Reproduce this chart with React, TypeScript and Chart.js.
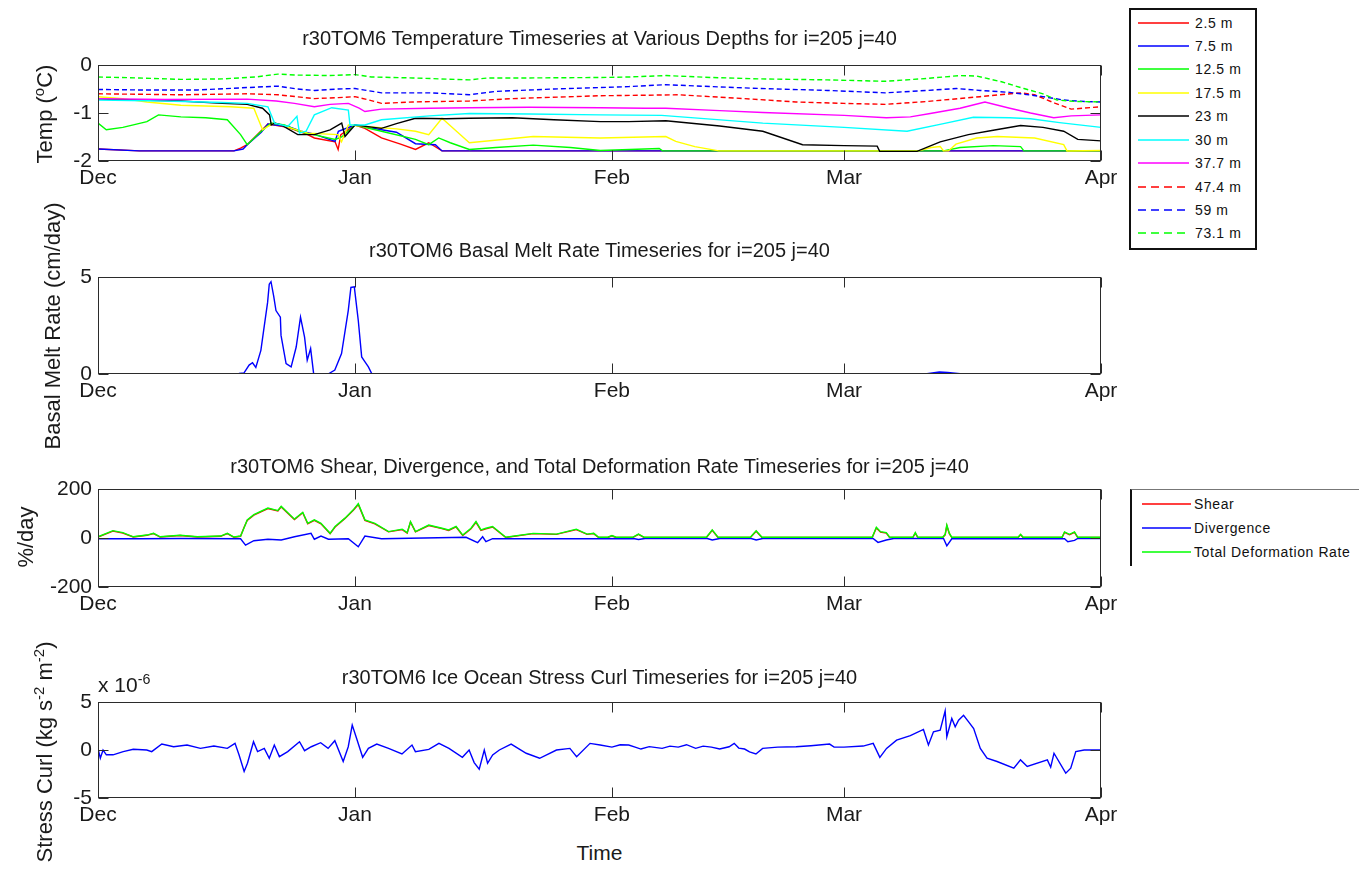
import React, { useEffect, useRef } from "react";
import { Chart, registerables } from "chart.js";

Chart.register(...registerables);

const FONT = '"Liberation Sans", Arial, Helvetica, sans-serif';
const TEXT = "#1a1a1a";
const AXIS = "#2b2b2b";

// x axis: days since Dec 1
const monthDays = [0, 31, 62, 90, 121];
const monthLabels = ["Dec", "Jan", "Feb", "Mar", "Apr"];

// ---------- Panel 1: temperature (°C) ----------
const depthLabels = ["2.5 m", "7.5 m", "12.5 m", "17.5 m", "23 m", "30 m", "37.7 m", "47.4 m", "59 m", "73.1 m"];
const depthColors = ["#ff0000", "#0000ff", "#00ff00", "#ffff00", "#000000", "#00ffff", "#ff00ff", "#ff0000", "#0000ff", "#00ff00"];
const depthDashed = [false, false, false, false, false, false, false, true, true, true];

const t2_5 = [[0,-1.75],[5,-1.79],[16.4,-1.79],[17.2,-1.73],[18,-1.66],[20.5,-1.23],[22.9,-1.3],[25.3,-1.45],[26.1,-1.52],[28.6,-1.6],[28.97,-1.76],[29.3,-1.45],[31,-1.25],[32.2,-1.32],[34.2,-1.52],[36.5,-1.65],[38.3,-1.76],[39.9,-1.62],[41.5,-1.79],[121,-1.79]];
const t7_5 = [[0,-1.75],[5,-1.79],[16.4,-1.79],[17.5,-1.75],[18,-1.66],[19.7,-1.4],[20.5,-1.23],[22.9,-1.28],[24.5,-1.38],[26.1,-1.44],[28.6,-1.59],[29,-1.38],[31,-1.25],[34.2,-1.35],[36,-1.4],[38.3,-1.64],[40.7,-1.66],[41.5,-1.79],[121,-1.79]];
const t12_5 = [[0,-1.21],[1,-1.35],[3,-1.3],[5.9,-1.18],[7.3,-1.04],[10,-1.08],[13,-1.1],[15.6,-1.14],[17.2,-1.45],[18,-1.66],[19.7,-1.38],[20.9,-1.21],[22.5,-1.25],[24.5,-1.4],[26,-1.45],[28.6,-1.55],[29.4,-1.5],[31,-1.25],[34.2,-1.38],[38.3,-1.55],[39.9,-1.66],[41.1,-1.52],[42.5,-1.62],[44.8,-1.76],[48,-1.72],[52.5,-1.67],[57,-1.72],[60.6,-1.78],[67.7,-1.74],[68.1,-1.79],[102,-1.79],[104,-1.72],[108,-1.68],[111.3,-1.7],[111.7,-1.79],[121,-1.79]];
const t17_5 = [[0,-0.66],[3,-0.7],[5.9,-0.77],[10,-0.84],[16,-0.87],[18.8,-0.9],[19.85,-1.35],[20.5,-1.28],[21.3,-1.21],[23,-1.3],[25.3,-1.42],[28.97,-1.45],[29.38,-1.6],[30.2,-1.25],[32.2,-1.28],[36,-1.33],[38.3,-1.38],[39.9,-1.45],[41.5,-1.11],[44.8,-1.62],[52.5,-1.49],[60.6,-1.52],[68.5,-1.49],[69.7,-1.59],[72,-1.7],[74.9,-1.79],[99,-1.79],[100.5,-1.72],[101.6,-1.7],[102,-1.79],[102.6,-1.79],[103.5,-1.65],[106,-1.52],[108.5,-1.49],[113,-1.52],[116.5,-1.66],[116.9,-1.79],[121,-1.78]];
const t23 = [[0,-0.71],[5,-0.73],[10,-0.75],[15,-0.8],[18,-0.82],[19.85,-0.9],[20.7,-1.04],[20.9,-1.25],[21.3,-1.21],[22.1,-1.25],[24.1,-1.45],[26.1,-1.45],[28,-1.35],[29.4,-1.21],[29.8,-1.49],[31,-1.25],[34.2,-1.32],[36,-1.22],[38.3,-1.11],[42,-1.12],[44.8,-1.11],[50,-1.1],[55,-1.14],[60.6,-1.18],[64,-1.18],[68.5,-1.16],[75,-1.27],[80.2,-1.38],[85,-1.66],[90,-1.68],[94,-1.69],[94.3,-1.8],[98.8,-1.8],[101.6,-1.6],[105,-1.45],[108,-1.36],[111.3,-1.26],[114,-1.3],[116.5,-1.38],[118.2,-1.55],[121,-1.58]];
const t30 = [[0,-0.73],[8,-0.75],[15,-0.78],[18,-0.8],[20.5,-0.87],[21.3,-1.21],[22.9,-1.28],[24.0,-1.07],[24.3,-1.42],[25.1,-1.38],[26.1,-1.04],[28.2,-0.89],[30.2,-0.94],[30.4,-1.25],[32.2,-1.25],[34.2,-1.14],[40,-1.06],[44.8,-1.01],[52,-1.02],[60.6,-1.04],[68,-1.05],[80.2,-1.21],[90,-1.3],[97.6,-1.38],[102,-1.22],[105.6,-1.09],[110,-1.1],[112.5,-1.12],[116,-1.2],[121,-1.3]];
const t37_7 = [[0,-0.7],[8,-0.72],[18,-0.71],[21.5,-0.75],[23.7,-0.8],[26.1,-0.87],[28,-0.82],[30.2,-0.8],[31.5,-0.9],[32.2,-0.97],[34.2,-0.92],[40,-0.9],[44.8,-0.89],[52,-0.88],[60.6,-0.89],[66,-0.9],[68.5,-0.9],[75,-0.95],[80.2,-0.99],[90,-1.05],[95.1,-1.1],[98,-1.08],[100.4,-1.01],[104,-0.9],[107,-0.77],[110,-0.9],[112.5,-1.0],[115.3,-1.1],[117.4,-1.06],[121,-1.04]];
const t47_4 = [[0,-0.6],[10,-0.62],[18,-0.6],[21.7,-0.62],[26.1,-0.7],[29,-0.68],[31,-0.66],[32.5,-0.72],[34.2,-0.8],[38,-0.77],[44.8,-0.75],[50,-0.7],[60.6,-0.64],[66,-0.63],[70,-0.62],[78,-0.7],[84.2,-0.77],[90,-0.8],[95,-0.82],[100,-0.76],[106.4,-0.66],[111.3,-0.58],[113,-0.62],[115.5,-0.8],[117.4,-0.92],[121,-0.87]];
const t59 = [[0,-0.51],[5,-0.52],[12,-0.52],[18,-0.47],[21.7,-0.44],[24,-0.5],[26.1,-0.53],[29,-0.5],[31,-0.49],[34.2,-0.58],[40,-0.58],[44.8,-0.62],[48,-0.55],[55,-0.5],[60.6,-0.47],[64,-0.45],[68.5,-0.41],[74,-0.45],[80,-0.49],[88,-0.53],[95,-0.58],[100,-0.53],[103.6,-0.49],[106.4,-0.53],[110,-0.57],[111.3,-0.6],[114,-0.66],[116.5,-0.73],[119,-0.76],[121,-0.77]];
const t73_1 = [[0,-0.25],[5,-0.27],[10,-0.3],[15,-0.29],[19,-0.25],[21.7,-0.19],[24,-0.21],[28,-0.22],[31,-0.2],[33,-0.25],[38,-0.27],[44.8,-0.31],[47,-0.27],[52,-0.27],[60.6,-0.26],[64,-0.25],[68.5,-0.22],[74,-0.26],[80,-0.29],[88,-0.31],[95,-0.34],[100,-0.28],[104,-0.22],[106,-0.23],[109,-0.35],[111.7,-0.49],[114,-0.6],[115.7,-0.73],[118,-0.76],[121,-0.77]];
const tempSeries = [t2_5, t7_5, t12_5, t17_5, t23, t30, t37_7, t47_4, t59, t73_1];

// ---------- Panel 2: basal melt rate (cm/day) ----------
const basalMelt = [[0,0.02],[16,0.02],[17,0.03],[17.6,0.05],[18.23,0.46],[18.64,0.58],[19.04,0.34],[19.65,1.22],[19.98,2.24],[20.46,3.69],[20.66,4.63],[20.87,4.76],[21.19,4.03],[21.47,3.27],[22.0,2.93],[22.08,1.99],[22.69,0.54],[23.3,0.37],[23.91,1.39],[24.43,2.93],[24.92,1.9],[25.24,0.71],[25.65,1.31],[26.01,0.03],[27.76,0],[28.57,0.2],[29.38,1.05],[30.19,3.27],[30.51,4.46],[30.92,4.49],[31.4,2.76],[31.81,0.88],[32.21,0.63],[32.62,0.37],[33.02,0.02],[60,0.02],[100,0.02],[101.5,0.1],[102.5,0.08],[104,0.02],[121,0.02]];

// ---------- Panel 3: deformation rates (%/day) ----------
const defLabels = ["Shear", "Divergence", "Total Deformation Rate"];
const defColors = ["#ff0000", "#0000ff", "#00ff00"];
const shear = [[0,4],[1.8,28],[3,20],[4.25,4],[5.9,11],[6.7,18],[7.5,4],[9.9,10],[12,4],[14.8,7],[15.6,18],[16.4,3],[17.2,7],[17.6,42],[18.0,72],[18.8,93],[20.5,120],[21.7,110],[22.1,127],[23.7,75],[24.7,103],[25.3,58],[26.1,72],[26.9,58],[28.0,18],[28.6,45],[29.8,80],[30.8,113],[31.4,137],[32.2,72],[33.4,58],[35.05,25],[36.7,34],[37.3,20],[37.7,65],[38.3,25],[39.9,51],[41.5,38],[42.3,31],[43.2,45],[44.0,10],[45.0,38],[45.6,64],[46.2,31],[46.8,37],[47.6,45],[49.2,2],[52.5,18],[55.3,15],[57.7,34],[59,15],[59.8,18],[60.4,2],[61.5,2],[62,9],[62.5,2],[64.5,2],[65.2,15],[65.9,2],[73.4,2],[74.1,31],[74.8,2],[78.7,2],[79.4,27],[80.1,2],[93.4,2],[93.9,41],[94.4,24],[95.1,20],[95.5,2],[98.3,2],[98.6,20],[98.9,2],[101.9,2],[102.2,13],[102.4,50],[102.7,18],[103,2],[111,2],[111.3,13],[111.6,2],[116.3,2],[116.6,23],[117.2,13],[117.8,23],[118.2,2],[121,2]];
const divergence = [[0,-3],[5,-3],[10,-2],[17.2,-3],[17.8,-29],[18.8,-11],[20.5,-5],[22.1,-8],[23.7,5],[25.7,19],[26.1,-5],[26.9,8],[27.8,-5],[30.2,-3],[31.4,-36],[32.2,8],[34.2,-3],[44.4,3],[45.8,-19],[46.4,5],[46.8,-15],[47.6,-3],[60,-3],[64.6,-2],[65.2,-6],[66,-2],[73.5,-2],[74.1,-8],[75,-2],[78.8,-2],[79.4,-8],[80.2,-2],[93.5,-2],[94.1,-18],[95.1,-8],[96,-2],[102,-2],[102.4,-32],[103,-3],[116.6,-3],[117,-15],[117.8,-10],[118.2,-2],[121,-2]];
const totalDeformation = [[0,5],[1.8,30],[3,22],[4.25,5],[5.9,12],[6.7,19],[7.5,5],[9.9,11],[12,5],[14.8,8],[15.6,19],[16.4,4],[17.2,8],[17.6,40],[18.0,74],[18.8,95],[20.5,122],[21.7,112],[22.1,129],[23.7,77],[24.7,105],[25.3,60],[26.1,74],[26.9,60],[28.0,19],[28.6,47],[29.8,81],[30.8,115],[31.4,140],[32.2,74],[33.4,60],[35.05,26],[36.7,36],[37.3,22],[37.7,67],[38.3,26],[39.9,53],[41.5,40],[42.3,33],[43.2,47],[44.0,12],[45.0,40],[45.6,67],[46.2,33],[46.8,40],[47.6,47],[49.2,3],[52.5,19],[55.3,16],[57.7,36],[59,16],[59.8,19],[60.4,3],[61.5,3],[62,10],[62.5,3],[64.5,3],[65.2,16],[65.9,3],[73.4,3],[74.1,33],[74.8,3],[78.7,3],[79.4,29],[80.1,3],[93.4,3],[93.9,44],[94.4,26],[95.1,22],[95.5,3],[98.3,3],[98.6,22],[98.9,3],[101.9,3],[102.2,15],[102.4,53],[102.7,20],[103,3],[111,3],[111.3,15],[111.6,3],[116.3,3],[116.6,25],[117.2,15],[117.8,25],[118.2,3],[121,3]];

// ---------- Panel 4: ice-ocean stress curl (x 1e-6 kg s^-2 m^-2) ----------
const stressCurl = [[0,0.17],[0.28,-0.86],[0.61,0],[1.01,-0.5],[1.82,-0.5],[3.04,-0.17],[4.25,0.07],[5.88,0],[6.48,-0.17],[7.7,0.62],[9.12,0.34],[10.74,0.52],[12.36,0.17],[13.98,0.41],[15.6,0.17],[16.53,0.69],[17.02,-0.52],[17.63,-2.24],[18.03,-1.38],[18.76,0.86],[19.25,-0.17],[20.06,0.17],[20.66,-0.86],[21.27,0.52],[21.88,-0.69],[22.89,-0.17],[24.31,0.86],[24.92,-0.07],[25.73,0.34],[26.86,0.76],[27.76,0.17],[28.57,0.97],[29.58,-1.2],[30.19,0.34],[30.67,2.59],[31.2,1.2],[31.93,-0.76],[32.62,0.17],[33.63,0.62],[35.05,0.17],[36.67,-0.41],[37.88,0.52],[38.29,-0.17],[39.91,0.07],[41.13,0.69],[42.34,0.17],[43.96,-0.76],[44.77,0],[45.38,-1.31],[45.99,-2.0],[46.6,0],[47.0,-1.38],[47.61,-0.52],[48.42,0],[49.84,0.62],[51.66,-0.34],[53.28,-0.86],[55.31,0],[56.93,0.17],[57.74,-0.69],[59.36,0.69],[60.58,0.52],[62,0.3],[63,0.55],[64.02,0.52],[64.8,0.3],[65.5,0.1],[66.5,0.35],[68.06,0.17],[69,0.4],[70,0.3],[71,0.55],[72.1,0.17],[73,0.4],[74,0.3],[75,0.1],[76.14,0.34],[76.75,0.69],[77.3,0.2],[78,0.1],[78.6,-0.2],[79.37,-0.41],[80.18,0.17],[82,0.3],[84.22,0.34],[86,0.45],[88.26,0.62],[88.8,0.3],[90,0.3],[92.3,0.41],[93.52,0.69],[94.32,-0.76],[95.13,0.17],[96.34,1.03],[98,1.5],[99.58,2.14],[100.18,0.52],[100.79,1.9],[101.6,2.07],[102.2,4.07],[102.4,1.38],[103.0,3.28],[103.41,2.41],[103.82,3.1],[104.42,3.62],[105.03,2.93],[105.64,2.24],[106.44,0.17],[107.25,-0.86],[108.46,-1.2],[110.48,-1.9],[111.29,-1.03],[112.1,-1.72],[114.53,-1.03],[114.93,-1.79],[115.33,-0.34],[116.75,-2.41],[117.35,-1.9],[117.96,-0.17],[118.97,0],[121,0]];

// ---------- layout ----------
const CANVAS_W = 1130;
const PLOT_LEFT = 98;
const PLOT_RIGHT = 1101;

const toXY = (pairs: number[][]) => pairs.map(([x, y]) => ({ x, y }));

type Panel = {
  top: number; height: number; chartTop: number; chartBottom: number;
  yMin: number; yMax: number; yTicks: number[]; yTickLabels: string[];
  datasets: any[];
};

const panels: Panel[] = [
  {
    top: 40, height: 160, chartTop: 65, chartBottom: 161,
    yMin: -2, yMax: 0, yTicks: [-2, -1, 0], yTickLabels: ["-2", "-1", "0"],
    datasets: tempSeries.map((s, i) => ({
      label: depthLabels[i], data: toXY(s), borderColor: depthColors[i],
      borderDash: depthDashed[i] ? [5, 3] : [], order: 10 - i,
    })),
  },
  {
    top: 252, height: 160, chartTop: 277, chartBottom: 374,
    yMin: 0, yMax: 5, yTicks: [0, 5], yTickLabels: ["0", "5"],
    datasets: [{ label: "Basal Melt Rate", data: toXY(basalMelt), borderColor: "#0000ff" }],
  },
  {
    top: 464, height: 160, chartTop: 489, chartBottom: 587,
    yMin: -200, yMax: 200, yTicks: [-200, 0, 200], yTickLabels: ["-200", "0", "200"],
    datasets: [shear, divergence, totalDeformation].map((s, i) => ({
      label: defLabels[i], data: toXY(s), borderColor: defColors[i], order: 3 - i,
    })),
  },
  {
    top: 677, height: 160, chartTop: 702, chartBottom: 798,
    yMin: -5, yMax: 5, yTicks: [-5, 0, 5], yTickLabels: ["-5", "0", "5"],
    datasets: [{ label: "Stress Curl", data: toXY(stressCurl), borderColor: "#0000ff" }],
  },
];

const matlabBox = {
  id: "matlabBox",
  afterDraw(chart: any) {
    const { ctx, chartArea: a, scales } = chart;
    const L = Math.round(a.left) + 0.5, R = Math.round(a.right) - 0.5;
    const T = Math.round(a.top) + 0.5, B = Math.round(a.bottom) - 0.5;
    const TL = 10;
    ctx.save();
    ctx.strokeStyle = AXIS;
    ctx.lineWidth = 1;
    ctx.setLineDash([]);
    ctx.strokeRect(L, T, R - L, B - T);
    ctx.beginPath();
    scales.x.ticks.forEach((t: any) => {
      const px = Math.round(scales.x.getPixelForValue(t.value)) + 0.5;
      ctx.moveTo(px, B); ctx.lineTo(px, B - TL);
      ctx.moveTo(px, T); ctx.lineTo(px, T + TL);
    });
    scales.y.ticks.forEach((t: any) => {
      const py = Math.round(scales.y.getPixelForValue(t.value)) + 0.5;
      ctx.moveTo(L, py); ctx.lineTo(L + TL, py);
      ctx.moveTo(R, py); ctx.lineTo(R - TL, py);
    });
    ctx.stroke();
    ctx.restore();
  },
};

function makeChart(canvas: HTMLCanvasElement, p: Panel) {
  const xH = p.top + p.height - p.chartBottom;
  return new Chart(canvas, {
    type: "line",
    data: { datasets: p.datasets },
    options: {
      animation: false,
      responsive: false,
      maintainAspectRatio: false,
      events: [],
      layout: { padding: { left: 0, right: CANVAS_W - PLOT_RIGHT, top: p.chartTop - p.top, bottom: 0 } },
      plugins: { legend: { display: false }, tooltip: { enabled: false }, title: { display: false } },
      elements: { point: { radius: 0 }, line: { tension: 0, borderWidth: 1.4 } },
      scales: {
        x: {
          type: "linear", min: 0, max: 121,
          grid: { display: false, drawTicks: false },
          border: { display: false },
          afterBuildTicks: (s: any) => { s.ticks = monthDays.map((v) => ({ value: v })); },
          afterFit: (s: any) => { s.height = xH; },
          ticks: {
            autoSkip: false, maxRotation: 0, padding: 5, color: TEXT,
            font: { family: FONT, size: 21 },
            callback: (_v: any, i: number) => monthLabels[i],
          },
        },
        y: {
          type: "linear", min: p.yMin, max: p.yMax,
          grid: { display: false, drawTicks: false },
          border: { display: false },
          afterBuildTicks: (s: any) => { s.ticks = p.yTicks.map((v) => ({ value: v })); },
          afterFit: (s: any) => { s.width = PLOT_LEFT; },
          ticks: {
            padding: 6, color: TEXT,
            font: { family: FONT, size: 21 },
            callback: (_v: any, i: number) => p.yTickLabels[i],
          },
        },
      },
    } as any,
    plugins: [matlabBox],
  });
}

const titles = [
  { text: "r30TOM6 Temperature Timeseries at Various Depths for i=205 j=40", y: 38 },
  { text: "r30TOM6 Basal Melt Rate Timeseries for i=205 j=40", y: 250 },
  { text: "r30TOM6 Shear, Divergence, and Total Deformation Rate Timeseries for i=205 j=40", y: 466 },
  { text: "r30TOM6 Ice Ocean Stress Curl Timeseries for i=205 j=40", y: 677 },
];

const supStyle: React.CSSProperties = { fontSize: "0.68em", verticalAlign: "0.55em", lineHeight: 0 };

const yLabels: { x: number; y: number; node: React.ReactNode }[] = [
  { x: 45, y: 114, node: <>Temp (<span style={supStyle}>o</span>C)</> },
  { x: 53, y: 326, node: <>Basal Melt Rate (cm/day)</> },
  { x: 26, y: 537, node: <>%/day</> },
  { x: 45, y: 752, node: <>Stress Curl (kg s<span style={supStyle}>-2</span> m<span style={supStyle}>-2</span>)</> },
];

const legend1Y = [23, 46, 69, 93, 116, 140, 163, 187, 210, 233];
const legend2Y = [504, 528, 552];

function LegendRow({ y, x1, x2, textX, color, dashed, label }: any) {
  return (
    <>
      <svg style={{ position: "absolute", left: x1, top: y - 3, overflow: "visible" }} width={x2 - x1} height={6}>
        <line x1={0} y1={3} x2={x2 - x1} y2={3} stroke={color} strokeWidth={1.6} strokeDasharray={dashed ? "8 5" : undefined} />
      </svg>
      <div style={{ position: "absolute", left: textX, top: y - 9, height: 18, lineHeight: "18px", fontSize: 14, letterSpacing: "0.6px", whiteSpace: "nowrap", color: "#111" }}>
        {label}
      </div>
    </>
  );
}

export default function App() {
  const refs = useRef<(HTMLCanvasElement | null)[]>([]);
  useEffect(() => {
    const charts = panels.map((p, i) => makeChart(refs.current[i] as HTMLCanvasElement, p));
    return () => charts.forEach((c) => c.destroy());
  }, []);

  return (
    <div style={{ position: "absolute", left: 0, top: 0, width: 1359, height: 872, background: "#fff", fontFamily: FONT, color: TEXT, overflow: "hidden" }}>
      {panels.map((p, i) => (
        <canvas
          key={i}
          ref={(el) => { refs.current[i] = el; }}
          width={CANVAS_W}
          height={p.height}
          style={{ position: "absolute", left: 0, top: p.top, width: CANVAS_W, height: p.height }}
        />
      ))}
      {titles.map((t, i) => (
        <div key={i} style={{ position: "absolute", left: PLOT_LEFT, width: PLOT_RIGHT - PLOT_LEFT, top: t.y - 12, height: 24, lineHeight: "24px", textAlign: "center", fontSize: 20, whiteSpace: "nowrap" }}>
          {t.text}
        </div>
      ))}
      {yLabels.map((l, i) => (
        <div key={i} style={{ position: "absolute", left: l.x, top: l.y, transform: "translate(-50%, -50%) rotate(-90deg)", fontSize: 22, lineHeight: "26px", whiteSpace: "nowrap" }}>
          {l.node}
        </div>
      ))}
      <div style={{ position: "absolute", left: PLOT_LEFT, top: 673, fontSize: 21, lineHeight: "24px", whiteSpace: "nowrap" }}>
        x 10<span style={supStyle}>-6</span>
      </div>
      <div style={{ position: "absolute", left: PLOT_LEFT, width: PLOT_RIGHT - PLOT_LEFT, top: 841, lineHeight: "24px", textAlign: "center", fontSize: 21 }}>
        Time
      </div>

      {/* Legend for temperature panel */}
      <div style={{ position: "absolute", left: 1129, top: 8, width: 124, height: 238, border: "2px solid #111", background: "#fff" }} />
      {depthLabels.map((lab, i) => (
        <LegendRow key={i} y={legend1Y[i]} x1={1138} x2={1189} textX={1195} color={depthColors[i]} dashed={depthDashed[i]} label={lab} />
      ))}

      {/* Legend for deformation panel */}
      <div style={{ position: "absolute", left: 1130, top: 489, width: 229, height: 76, borderLeft: "2px solid #111", borderTop: "1px solid #777", background: "#fff" }} />
      {defLabels.map((lab, i) => (
        <LegendRow key={i} y={legend2Y[i]} x1={1142} x2={1191} textX={1194} color={defColors[i]} dashed={false} label={lab} />
      ))}
    </div>
  );
}
